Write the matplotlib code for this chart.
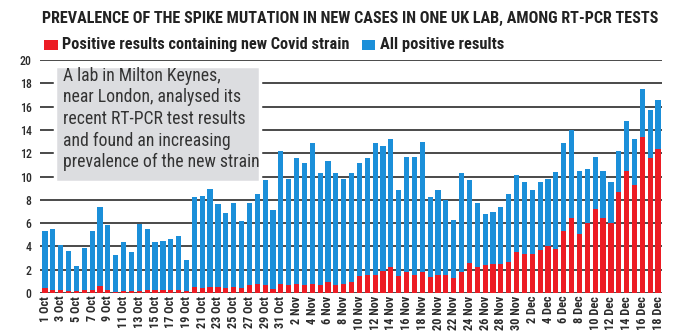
import matplotlib
matplotlib.use("Agg")
import matplotlib.pyplot as plt
from matplotlib import font_manager as fm
from matplotlib.patches import Rectangle
import numpy as np

W, H = 680, 332
RED = "#ec1c24"
BLUE = "#1b8fd9"
GRID = "#4a4a4a"
TXT = "#2b2b2b"

dates = ([f"{d} Oct" for d in range(1, 32)] + [f"{d} Nov" for d in range(1, 31)]
         + [f"{d} Dec" for d in range(1, 19)])

all_positive = [
    5.3, 5.5, 4.1, 3.6, 2.3, 3.9, 5.3, 7.35, 5.8, 3.25, 4.4, 3.5, 5.95, 5.5, 4.4,
    4.5, 4.65, 4.9, 2.85, 8.25, 8.35, 8.9, 7.6, 6.85, 7.75, 6.2, 7.7, 8.5, 9.7, 7.1, 12.2,
    9.8, 11.6, 11.2, 12.85, 10.3, 11.35, 10.3, 9.8, 10.3, 11.2, 11.6, 12.85, 12.6, 13.25, 8.8,
    11.7, 11.7, 12.95, 8.2, 8.85, 7.95, 6.3, 10.3, 9.7, 7.7, 6.8, 6.95, 7.35, 8.5, 10.15,
    9.5, 8.8, 9.5, 9.75, 10.4, 12.85, 13.95, 10.45, 10.65, 11.65, 10.5, 9.5, 12.2, 14.75,
    13.25, 17.5, 15.75, 16.55,
]
new_strain = [
    0.43, 0.3, 0.3, 0.15, 0.15, 0.3, 0.3, 0.57, 0.3, 0.1, 0.15, 0.15, 0.2, 0.3, 0.3,
    0.3, 0.26, 0.3, 0.15, 0.5, 0.43, 0.5, 0.5, 0.4, 0.55, 0.4, 0.68, 0.78, 0.68, 0.33, 0.78,
    0.66, 0.77, 0.66, 0.77, 0.66, 0.94, 0.66, 0.77, 0.94, 1.47, 1.56, 1.56, 1.92, 2.2, 1.47,
    1.8, 1.57, 1.82, 1.34, 1.57, 1.57, 1.32, 1.82, 2.58, 2.23, 2.38, 2.5, 2.5, 2.64, 3.52,
    3.38, 3.38, 3.65, 4.02, 3.8, 5.3, 6.45, 5.08, 5.98, 7.25, 6.45, 5.98, 8.68, 10.5,
    9.3, 13.35, 11.55, 12.35,
]
y_ticks = [0, 2, 4, 6, 8, 10, 12, 14, 16, 18, 20]

title = "PREVALENCE OF THE SPIKE MUTATION IN NEW CASES IN ONE UK LAB, AMONG RT-PCR TESTS"
legend_labels = ["Positive results containing new Covid strain", "All positive results"]
note = ("A lab in Milton Keynes,\nnear London, analysed its\nrecent RT-PCR test results\n"
        "and found an increasing\nprevalence of the new strain")

# pick a narrow face if one is installed
names = {f.name for f in fm.fontManager.ttflist}
FONT, STRETCH = "Roboto", "normal"
for cand in ["Liberation Sans Narrow", "Roboto Condensed", "Open Sans Condensed",
             "Noto Sans Condensed", "DejaVu Sans Condensed"]:
    if cand in names:
        FONT, STRETCH = cand, "condensed"
        break
else:
    if any(f.name == "DejaVu Sans" and f.stretch == "condensed" for f in fm.fontManager.ttflist):
        FONT, STRETCH = "DejaVu Sans", "condensed"
FAM = [FONT, "DejaVu Sans"]


def fx(x):
    return x / W


def fy(y):
    return 1 - y / H


def fit(t, width_px):
    # scale the font size so the text spans the width seen in the reference
    r = fig.canvas.get_renderer()
    w = t.get_window_extent(r).width
    t.set_fontsize(t.get_fontsize() * width_px / w)


fig = plt.figure(figsize=(W / 100, H / 100), dpi=100)
ax = fig.add_axes([fx(40), fy(293), fx(662) - fx(40), fy(60) - fy(293)])

x = np.arange(len(dates))
ax.set_yticks(y_ticks)
ax.grid(axis="y", color=GRID, linewidth=1.4, zorder=0)
ax.set_axisbelow(True)
ax.bar(x, all_positive, width=0.66, color=BLUE, zorder=2)
ax.bar(x, new_strain, width=0.66, color=RED, zorder=3)

ax.set_xlim(-0.64, len(dates) - 0.5)
ax.set_ylim(0, 20)
for s in ax.spines.values():
    s.set_visible(False)
ax.tick_params(axis="y", length=0, pad=6, labelsize=8.5, labelcolor=TXT)
ax.tick_params(axis="x", length=0, pad=2)
ax.set_xticks(x[::2])
ax.set_xticklabels(dates[::2], rotation=90, fontsize=7.5, color=TXT,
                   family=FAM, fontstretch=STRETCH, fontweight="bold")
for lab in ax.get_yticklabels():
    lab.set_family(FAM)
    lab.set_fontstretch(STRETCH)
    lab.set_fontweight("medium")

# note box
fig.patches.append(Rectangle((fx(55), fy(182)), fx(260) - fx(55), fy(66) - fy(182),
                             transform=fig.transFigure, facecolor="#dcdde0",
                             edgecolor="white", linewidth=2.5, zorder=5))
t_note = fig.text(fx(63), fy(119), note, ha="left", va="center", fontsize=11,
                  color="#333333", family=FAM, fontstretch=STRETCH, linespacing=1.25, zorder=6)

# title and legend
t_title = fig.text(fx(42), fy(18), title, ha="left", va="center", fontsize=10.5,
                   fontweight="bold", color="#222222", family=FAM, fontstretch=STRETCH)
fig.patches.append(Rectangle((fx(44), fy(50)), fx(14), 10 / H, transform=fig.transFigure,
                             facecolor=RED, edgecolor="none"))
t_leg1 = fig.text(fx(62), fy(45), legend_labels[0], ha="left", va="center", fontsize=10.5,
                  fontweight="bold", color="#222222", family=FAM, fontstretch=STRETCH)
fig.patches.append(Rectangle((fx(362), fy(50)), fx(13), 10 / H, transform=fig.transFigure,
                             facecolor=BLUE, edgecolor="none"))
t_leg2 = fig.text(fx(380), fy(45), legend_labels[1], ha="left", va="center", fontsize=10.5,
                  fontweight="bold", color="#222222", family=FAM, fontstretch=STRETCH)

fig.canvas.draw()
fit(t_title, 620)
fit(t_leg1, 288)
fit(t_leg2, 125)
fit(t_note, 196)
xl = ax.get_xticklabels()
r = fig.canvas.get_renderer()
h = xl[30].get_window_extent(r).height  # "30 Nov"
for lab in xl:
    lab.set_fontsize(lab.get_fontsize() * 34 / h)

fig.savefig("out.png", dpi=100)
